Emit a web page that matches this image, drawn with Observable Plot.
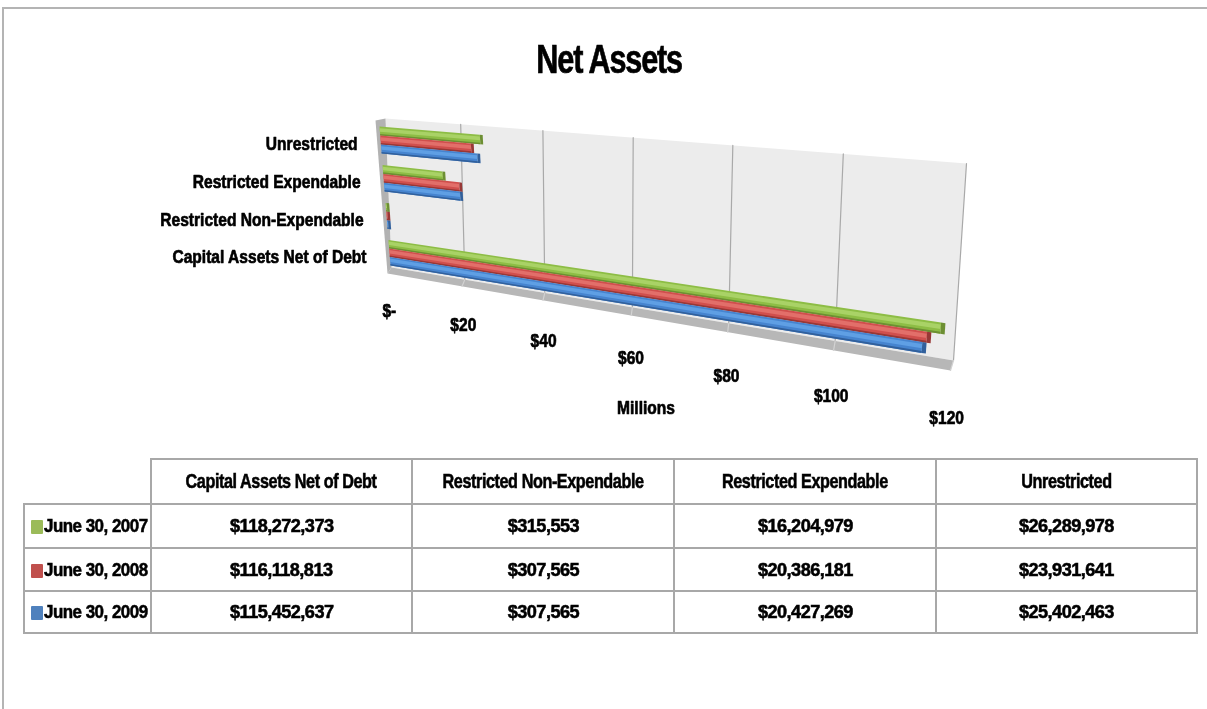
<!DOCTYPE html>
<html><head><meta charset="utf-8">
<script src="https://cdn.jsdelivr.net/npm/d3@7"></script>
<script src="https://cdn.jsdelivr.net/npm/@observablehq/plot@0.6"></script>
<style>
html,body{margin:0;padding:0;background:#fff;overflow:hidden}
#page{position:relative;width:1207px;height:709px;filter:blur(.45px);font-family:"Liberation Sans",sans-serif;font-weight:700;color:#000}
#frame{position:absolute;left:2px;top:7px;width:1210px;height:710px;border:2px solid #b4b4b4;border-right:0;border-bottom:0;box-sizing:border-box}
#title{position:absolute;left:0;width:1219px;top:36px;text-align:center;font-size:40px;letter-spacing:-1.5px;line-height:46px;-webkit-text-stroke:.7px #000}
#title span{display:inline-block;transform:scaleX(.765)}
#chart{position:absolute;left:0;top:0}
table{position:absolute;left:23px;top:458px;border-collapse:collapse;table-layout:fixed;width:1173px;font-size:18.5px;-webkit-text-stroke:.55px #000}
td,th{border:2px solid #a8a8a8;text-align:center;padding:0;font-weight:700;white-space:nowrap}
th.blank{border:0;border-right:2px solid #a8a8a8;border-bottom:2px solid #a8a8a8}
th span{display:inline-block;font-size:19.5px;letter-spacing:-.5px;transform:scaleX(.83)}
td span{display:inline-block;letter-spacing:-.55px;transform:scaleX(.98)}
td.key{text-align:left;padding-left:6px}
td.key span{transform:scaleX(.915);transform-origin:left center;letter-spacing:-.55px}
td.key i{display:inline-block;width:12px;height:14px;margin-right:1px;vertical-align:-2px;border-radius:1px}
</style></head><body>
<div id="page"><div id="frame"></div><div id="chart"></div><div id="title"><span>Net Assets</span></div><div id="tbl"></div></div>
<script>
const categories = ["Capital Assets Net of Debt","Restricted Non-Expendable","Restricted Expendable","Unrestricted"];
const seriesNames = ["June 30, 2007","June 30, 2008","June 30, 2009"];
const values2007 = [118272373,315553,16204979,26289978];
const values2008 = [116118813,307565,20386181,23931641];
const values2009 = [115452637,307565,20427269,25402463];
const axisTicks = [0,20,40,60,80,100,120];
const axisLabels = ["$-","$20","$40","$60","$80","$100","$120"];
const axisMax = 120;
const seriesColors = [
  {light:"#a9d266",main:"#8dbd45",dark:"#6d8f33",key:"#9bbb59"},
  {light:"#e26f6a",main:"#d04f4d",dark:"#983836",key:"#c0504d"},
  {light:"#5f9fe4",main:"#4684cf",dark:"#31609c",key:"#4f81bd"}
];
const seriesValues = [values2007,values2008,values2009];

// perspective planes of the 3-D box (corner order: origin, axis end, far top, top)
function plane(p00,p10,p11,p01){
  const dx1=p10[0]-p11[0],dx2=p01[0]-p11[0],sx=p00[0]-p10[0]+p11[0]-p01[0];
  const dy1=p10[1]-p11[1],dy2=p01[1]-p11[1],sy=p00[1]-p10[1]+p11[1]-p01[1];
  const den=dx1*dy2-dx2*dy1,g=(sx*dy2-dx2*sy)/den,h=(dx1*sy-sx*dy1)/den;
  const a=p10[0]-p00[0]+g*p10[0],b=p01[0]-p00[0]+h*p01[0],c=p00[0];
  const d=p10[1]-p00[1]+g*p10[1],e=p01[1]-p00[1]+h*p01[1],f=p00[1];
  const fn=(u,v)=>{const s=u/axisMax,w=g*s+h*v+1;return [(a*s+b*v+c)/w,(d*s+e*v+f)/w];};
  fn.inv=(x,y)=>{
    const A=e-f*h,B=c*h-b,C=b*f-c*e,D=f*g-d,E=a-c*g,F=c*d-a*f,G=d*h-e*g,H=b*g-a*h,I=a*e-b*d;
    const w=G*x+H*y+I;return [(A*x+B*y+C)/w*axisMax,(D*x+E*y+F)/w];
  };
  return fn;
}
const barPlane = plane([390,265],[949,357],[962,174],[379,126]);
const wallPlane = plane([391,267],[953,360],[966,163],[385,118]);
const frontPlane = plane([387,273],[950,370],[962,172],[375,120]);
const wall=(u,v)=>barPlane.inv(...wallPlane(u,v));
const front=(u,v)=>barPlane.inv(...frontPlane(u,v));

const projection = d3.geoTransform({point(x,y){const p=barPlane(x,y);this.stream.point(p[0],p[1]);}});
const poly=(ring,fill)=>({type:"Feature",properties:{fill},geometry:{type:"Polygon",coordinates:[[...ring,ring[0]]]}});
const seg=(a,b,stroke)=>({type:"Feature",properties:{stroke},geometry:{type:"LineString",coordinates:[a,b]}});

const catBand = d3.scaleBand(categories,[0,1]).paddingInner(0.30).paddingOuter(0);
const serBand = d3.scaleBand(seriesNames.slice().reverse(),[0,catBand.bandwidth()]);

const box=[
  poly([wall(0,0),wall(axisMax,0),wall(axisMax,1),wall(0,1)],"#ececec"),
  poly([wall(0,0),wall(axisMax,0),front(axisMax,0),front(0,0)],"#b7b7b7"),
  poly([wall(0,0),wall(0,1),front(0,1),front(0,0)],"#b2b2b2")
];
const grid=[];
for(const t of axisTicks.slice(1)){
  grid.push(seg(wall(t,0),wall(t,1),"#a9a9a9"));
  grid.push(seg(wall(t,0),front(t,0),"#d2d2d2"));
}
const bars=[];
seriesNames.forEach((s,si)=>{
  const col=seriesColors[si];
  categories.forEach((c,ci)=>{
    const u=seriesValues[si][ci]/1e6, v0=catBand(c)+serBand(s), h=serBand.bandwidth(), cap=0.7;
    const rect=(a,b,x0,x1,f)=>poly([[x0,v0+a*h],[x1,v0+a*h],[x1,v0+b*h],[x0,v0+b*h]],f);
    bars.push(rect(0,1,0,u,col.main));
    bars.push(rect(0,.18,0,u,col.dark));
    bars.push(rect(.42,.82,0,u,col.light));
    bars.push(rect(0,1,u,u+cap,col.dark));
  });
});
const tickRows=axisTicks.map((t,i)=>{const p=front(t,-0.25);return {u:p[0],v:p[1],label:axisLabels[i]};});
const catRows=categories.map(c=>({u:0,v:catBand(c)+catBand.bandwidth()/2,label:c}));
const fontFamily='"Liberation Sans",sans-serif';
const textStyle={fontSize:19,fontWeight:700,fontFamily,fill:"#000",stroke:"#000",strokeWidth:.7};

const fig=Plot.plot({
  width:1207,height:450,margin:0,projection,
  color:{type:"identity"},
  marks:[
    Plot.geo(box,{fill:d=>d.properties.fill,stroke:"none"}),
    Plot.geo(grid,{stroke:d=>d.properties.stroke,strokeWidth:1.2,fill:"none"}),
    Plot.geo(bars,{fill:d=>d.properties.fill,stroke:"none"}),
    Plot.text(catRows,{x:"u",y:"v",text:"label",textAnchor:"end",dx:-23,dy:4,...textStyle}),
    Plot.text(tickRows,{x:"u",y:"v",text:"label",dx:-1,dy:1,...textStyle}),
    Plot.text([{u:63.2,v:-0.675,label:"Millions"}],{x:"u",y:"v",text:"label",...textStyle})
  ]
});
fig.style.background="transparent";
document.getElementById("chart").append(fig);
// the reference's type is condensed: no narrow family is installed, so squeeze the glyphs
fig.querySelectorAll("text").forEach(t=>{
  t.setAttribute("transform",(t.getAttribute("transform")||"")+" scale(.82,1)");
});

// data table
const fmt=d3.format("$,");
const rowHeights=[45,44,43,42];
let html='<table><colgroup><col style="width:127px">'+[261,262,262,261].map(w=>`<col style="width:${w}px">`).join("")+'</colgroup>';
html+=`<tr style="height:${rowHeights[0]}px"><th class="blank"></th>`+categories.map(c=>`<th><span>${c}</span></th>`).join("")+'</tr>';
seriesNames.forEach((s,si)=>{
  html+=`<tr style="height:${rowHeights[si+1]}px"><td class="key"><i style="background:${seriesColors[si].key}"></i><span>${s}</span></td>`+seriesValues[si].map(v=>`<td><span>${fmt(v)}</span></td>`).join("")+'</tr>';
});
document.getElementById("tbl").innerHTML=html+'</table>';
</script></body></html>
